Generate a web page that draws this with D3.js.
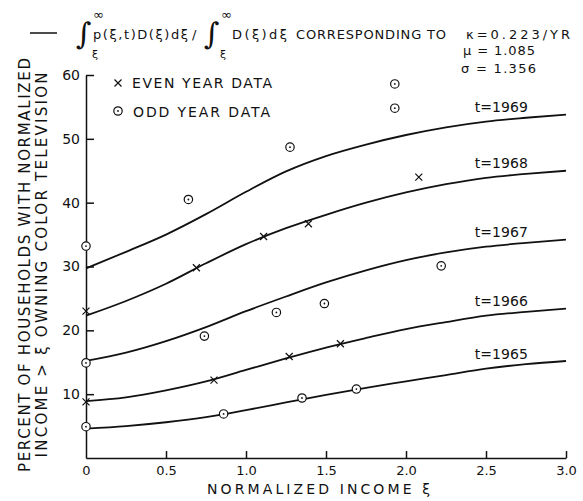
<!DOCTYPE html>
<html>
<head>
<meta charset="utf-8">
<script src="https://cdn.jsdelivr.net/npm/d3@7"></script>
<style>
  html, body { margin: 0; padding: 0; background: #fff; }
  svg text { font-family: "DejaVu Sans", "Liberation Sans", sans-serif; fill: #111; }
</style>
</head>
<body>
<div id="chart"></div>
<script>
// income grid the model curves were read on
const curveX = [0, 0.25, 0.5, 0.75, 1.0, 1.25, 1.5, 1.75, 2.0, 2.25, 2.5, 2.75, 3.0];

// model curves, percent owning colour TV, one per year
const years = ['1965', '1966', '1967', '1968', '1969'];
const c1965 = [4.6, 5.0, 5.6, 6.4, 7.5, 8.7, 9.9, 11.0, 12.0, 13.0, 14.0, 14.7, 15.2];
const c1966 = [8.9, 9.5, 10.6, 12.0, 13.8, 15.6, 17.3, 18.8, 20.2, 21.3, 22.3, 22.9, 23.4];
const c1967 = [15.2, 16.5, 18.3, 20.5, 23.0, 25.3, 27.5, 29.4, 31.0, 32.2, 33.1, 33.7, 34.2];
const c1968 = [22.3, 24.6, 27.3, 30.5, 33.5, 36.0, 38.1, 40.0, 41.6, 42.9, 43.9, 44.5, 45.0];
const c1969 = [29.7, 32.3, 35.0, 38.2, 41.7, 44.9, 47.3, 49.1, 50.6, 51.8, 52.7, 53.3, 53.8];

// survey points [income, percent]
const evenYear = [[0, 23.0], [0.69, 29.8], [1.11, 34.7], [1.39, 36.7], [2.08, 44.0],
                  [0, 8.8], [0.8, 12.2], [1.27, 15.9], [1.59, 17.9]];
const oddYear = [[0, 33.2], [0.64, 40.5], [1.275, 48.7], [1.93, 58.6], [1.93, 54.8],
                 [0, 14.9], [0.74, 19.1], [1.19, 22.8], [1.49, 24.2], [2.22, 30.1],
                 [0, 4.9], [0.86, 6.9], [1.35, 9.4], [1.69, 10.8]];

const xTicks = [0, 0.5, 1.0, 1.5, 2.0, 2.5, 3.0];
const xTickLabels = ['0', '0.5', '1.0', '1.5', '2.0', '2.5', '3.0'];
const yTicks = [10, 20, 30, 40, 50, 60];

const width = 583, height = 501;
const svg = d3.select('#chart').append('svg')
  .attr('width', width)
  .attr('height', height);

const x = d3.scaleLinear().domain([0, 3]).range([86, 566]);
const y = d3.scaleLinear().domain([0, 60]).range([458, 75]);

// axes, ticks pointing into the plot
const xAxis = d3.axisBottom(x)
  .tickValues(xTicks)
  .tickFormat((d, i) => xTickLabels[i])
  .tickSizeInner(-7)
  .tickSizeOuter(0)
  .tickPadding(8);

const gx = svg.append('g')
  .attr('transform', `translate(0,${y(0)})`)
  .call(xAxis);
gx.selectAll('text').style('font-size', '13px');
gx.selectAll('.tick').filter(d => d === 0).select('line').remove();

const yAxis = d3.axisLeft(y)
  .tickValues(yTicks)
  .tickSizeInner(-8)
  .tickSizeOuter(0)
  .tickPadding(6);

const gy = svg.append('g')
  .attr('transform', `translate(${x(0)},0)`)
  .call(yAxis);
gy.selectAll('text').style('font-size', '14px');

svg.selectAll('.domain, .tick line')
  .attr('stroke', '#111')
  .attr('stroke-width', 1.5);

// model curves
const series = [c1965, c1966, c1967, c1968, c1969];
const line = d3.line()
  .x((d, i) => x(curveX[i]))
  .y(d => y(d))
  .curve(d3.curveMonotoneX);

svg.selectAll('path.model')
  .data(series)
  .enter().append('path')
  .attr('class', 'model')
  .attr('fill', 'none')
  .attr('stroke', '#111')
  .attr('stroke-width', 1.8)
  .attr('d', line);

// year labels sit just above each curve near xi = 2.5
const labelIdx = curveX.indexOf(2.5);
svg.selectAll('text.year')
  .data(series)
  .enter().append('text')
  .attr('class', 'year')
  .attr('x', x(2.43))
  .attr('y', d => y(d[labelIdx]) - 10)
  .attr('textLength', 53)
  .style('font-size', '14px')
  .text((d, i) => 't=' + years[i]);

// markers
function drawCross(g, cx, cy) {
  const s = 3.5;
  g.append('path')
    .attr('d', `M${cx - s},${cy - s}L${cx + s},${cy + s}M${cx - s},${cy + s}L${cx + s},${cy - s}`)
    .attr('stroke', '#111')
    .attr('stroke-width', 1.2)
    .attr('fill', 'none');
}
function drawDotCircle(g, cx, cy) {
  g.append('circle')
    .attr('cx', cx).attr('cy', cy).attr('r', 4.2)
    .attr('fill', '#fff').attr('stroke', '#111').attr('stroke-width', 1.2);
  g.append('circle')
    .attr('cx', cx).attr('cy', cy).attr('r', 0.9)
    .attr('fill', '#111');
}

const pts = svg.append('g');
evenYear.forEach(d => drawCross(pts, x(d[0]), y(d[1])));
oddYear.forEach(d => drawDotCircle(pts, x(d[0]), y(d[1])));

// legend
const leg = svg.append('g');
drawCross(leg, 118, 83);
drawDotCircle(leg, 118, 111);
leg.append('text').attr('x', 132).attr('y', 88).attr('textLength', 140)
  .style('font-size', '14px').text('EVEN YEAR DATA');
leg.append('text').attr('x', 133).attr('y', 117).attr('textLength', 137)
  .style('font-size', '14px').text('ODD YEAR DATA');

// axis titles
svg.append('text')
  .attr('x', 207).attr('y', 494)
  .attr('textLength', 223)
  .style('font-size', '14px')
  .text('NORMALIZED INCOME ξ');

svg.append('text')
  .attr('transform', 'translate(30,265) rotate(-90)')
  .attr('text-anchor', 'middle')
  .attr('textLength', 414)
  .style('font-size', '15px')
  .text('PERCENT OF HOUSEHOLDS WITH NORMALIZED');

svg.append('text')
  .attr('transform', 'translate(47,265) rotate(-90)')
  .attr('text-anchor', 'middle')
  .attr('textLength', 385)
  .style('font-size', '15px')
  .text('INCOME > ξ  OWNING COLOR TELEVISION');

// header formula
const hd = svg.append('g');
hd.append('line')
  .attr('x1', 30).attr('x2', 57).attr('y1', 33).attr('y2', 33)
  .attr('stroke', '#111').attr('stroke-width', 1.5);

function integral(x0) {
  hd.append('text').attr('x', x0).attr('y', 44)
    .style('font-size', '30px').style('font-family', '"DejaVu Serif", serif').text('∫');
  hd.append('text').attr('x', x0 + 17).attr('y', 19).style('font-size', '13px').text('∞');
  hd.append('text').attr('x', x0 + 16).attr('y', 58).style('font-size', '11px').text('ξ');
}
integral(76);
hd.append('text').attr('x', 93).attr('y', 39).attr('textLength', 95)
  .style('font-size', '13px').text('p(ξ,t)D(ξ)dξ');
hd.append('text').attr('x', 192).attr('y', 39).style('font-size', '13px').text('/');
integral(204);
hd.append('text').attr('x', 232).attr('y', 39).attr('textLength', 55)
  .style('font-size', '13px').text('D(ξ)dξ');
hd.append('text').attr('x', 296).attr('y', 39).attr('textLength', 150)
  .style('font-size', '13px').text('CORRESPONDING TO');
hd.append('text').attr('x', 466).attr('y', 39).attr('textLength', 104)
  .style('font-size', '13px').text('κ=0.223/YR');
hd.append('text').attr('x', 463).attr('y', 55).attr('textLength', 72)
  .style('font-size', '13px').text('μ = 1.085');
hd.append('text').attr('x', 461).attr('y', 73).attr('textLength', 75)
  .style('font-size', '13px').text('σ = 1.356');
</script>
</body>
</html>
